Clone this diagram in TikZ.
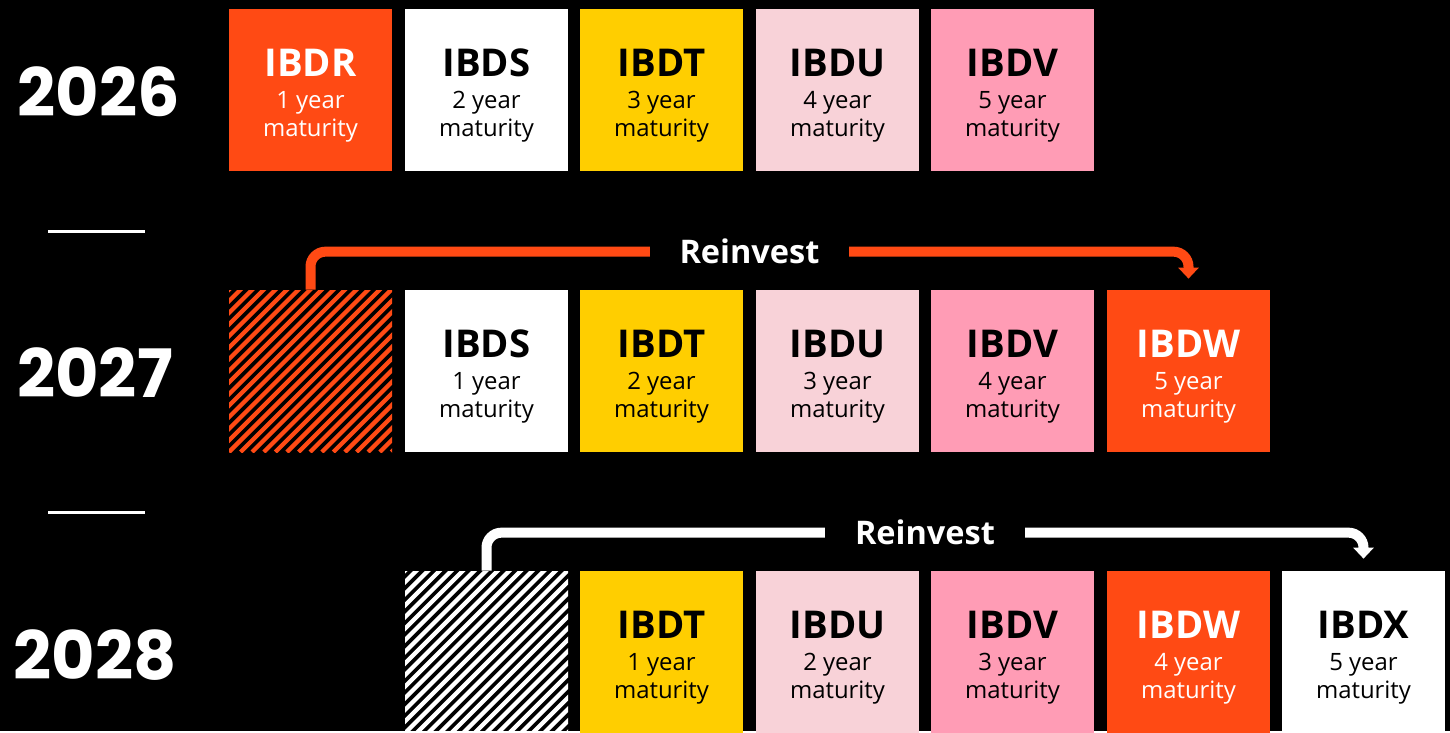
\documentclass[tikz,border=0pt]{standalone}
\usepackage{fontspec}
\setmainfont{Open Sans}
\newfontfamily\yearfont{Poppins}
\usetikzlibrary{arrows.meta,calc}

\definecolor{brandorange}{HTML}{FF4A14}
\definecolor{brandyellow}{HTML}{FFCE00}
\definecolor{palepink}{HTML}{F8D2D8}
\definecolor{rosepink}{HTML}{FF9CB5}

% ticker line, with a strut that pushes the text block a bit down
\newcommand{\ticker}[1]{{\bfseries\fontsize{21.8}{24}\selectfont\rule{0pt}{22pt}#1}\\[1.8pt]}

\tikzset{
  fund/.style={rectangle, fill=#1, minimum width=3.26cm, minimum height=3.24cm,
               inner sep=0pt, align=center, font=\fontsize{13.6}{16}\selectfont},
  fund/.default=white,
  hotfund/.style={fund=brandorange, text=white},
  matured/.style={rectangle, minimum width=3.26cm, minimum height=3.24cm, inner sep=0pt,
                  path picture={
                    \foreach \k in {-3.48,-3.248,...,3.3}
                      \draw[#1, line width=0.085cm]
                        ([xshift=\k cm]path picture bounding box.south west) -- ++(3.6,3.6);
                  }},
  yearlabel/.style={text=white, font=\yearfont\bfseries\fontsize{38}{40}\selectfont},
  divider/.style={draw=white, line width=0.06cm},
  flow/.style={draw=#1, line width=0.2cm, rounded corners=0.3cm,
               -{Triangle[width=0.4cm,length=0.22cm]}},
  reinvest/.style={fill=black, text=white, inner xsep=0.6cm,
                   font=\bfseries\fontsize{18.5}{20}\selectfont},
}

\begin{document}
\begin{tikzpicture}
    \fill[black] (0,0) rectangle (29,-14.62);

    % 2026

    \node (y26) [yearlabel] at (1.98,-1.84) {2026};
    \node (ibdr26) [hotfund] at (6.21,-1.8)
          {\ticker{IBDR}1 year\\maturity};
    \node (ibds26) [fund] at (9.73,-1.8)
          {\ticker{IBDS}2 year\\maturity};
    \node (ibdt26) [fund=brandyellow] at (13.23,-1.8)
          {\ticker{IBDT}3 year\\maturity};
    \node (ibdu26) [fund=palepink] at (16.75,-1.8)
          {\ticker{IBDU}4 year\\maturity};
    \node (ibdv26) [fund=rosepink] at (20.25,-1.8)
          {\ticker{IBDV}5 year\\maturity};

    \draw[divider] (0.96,-4.62) -- (2.9,-4.62);

    % 2027

    \node (y27) [yearlabel] at (1.9,-7.46) {2027};
    \node (gap27) [matured=brandorange] at (6.21,-7.42) {};
    \node (ibds27) [fund] at (9.73,-7.42)
          {\ticker{IBDS}1 year\\maturity};
    \node (ibdt27) [fund=brandyellow] at (13.23,-7.42)
          {\ticker{IBDT}2 year\\maturity};
    \node (ibdu27) [fund=palepink] at (16.75,-7.42)
          {\ticker{IBDU}3 year\\maturity};
    \node (ibdv27) [fund=rosepink] at (20.25,-7.42)
          {\ticker{IBDV}4 year\\maturity};
    \node (ibdw27) [hotfund] at (23.77,-7.42)
          {\ticker{IBDW}5 year\\maturity};
    \draw[flow=brandorange] (gap27.north) -- ++(0,0.76)
          -| ([yshift=0.22cm]ibdw27.north);
    \node (rein27) [reinvest]
          at ($(gap27.north)!0.5!(ibdw27.north)+(0,0.76)$) {Reinvest};

    \draw[divider] (0.96,-10.24) -- (2.9,-10.24);

    % 2028

    \node (y28) [yearlabel] at (1.9,-13.1) {2028};
    \node (gap28) [matured=white] at (9.73,-13.04) {};
    \node (ibdt28) [fund=brandyellow] at (13.23,-13.04)
          {\ticker{IBDT}1 year\\maturity};
    \node (ibdu28) [fund=palepink] at (16.75,-13.04)
          {\ticker{IBDU}2 year\\maturity};
    \node (ibdv28) [fund=rosepink] at (20.25,-13.04)
          {\ticker{IBDV}3 year\\maturity};
    \node (ibdw28) [hotfund] at (23.77,-13.04)
          {\ticker{IBDW}4 year\\maturity};
    \node (ibdx28) [fund] at (27.27,-13.04)
          {\ticker{IBDX}5 year\\maturity};
    \draw[flow=white] (gap28.north) -- ++(0,0.76)
          -| ([yshift=0.24cm]ibdx28.north);
    \node (rein28) [reinvest]
          at ($(gap28.north)!0.5!(ibdx28.north)+(0,0.76)$) {Reinvest};
   \end{tikzpicture}
\end{document}
